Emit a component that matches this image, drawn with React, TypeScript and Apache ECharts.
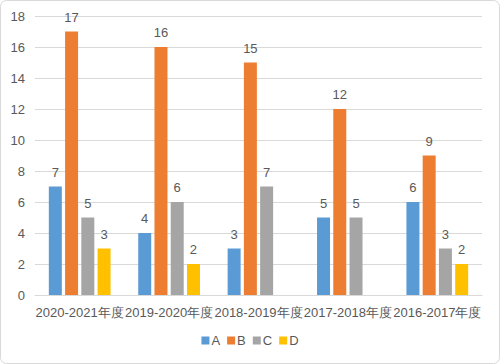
import React, { useEffect, useRef } from "react";
import * as echarts from "echarts";

const categories = ["2020-2021年度", "2019-2020年度", "2018-2019年度", "2017-2018年度", "2016-2017年度"];
const seriesA = [7, 4, 3, 5, 6];
const seriesB = [17, 16, 15, 12, 9];
const seriesC = [5, 6, 7, 5, 3];
const seriesD: (number | null)[] = [3, 2, null, null, 2];
const seriesNames = ["A", "B", "C", "D"];
const colors = ["#5B9BD5", "#ED7D31", "#A5A5A5", "#FFC000"];

export default function App() {
  const ref = useRef<HTMLDivElement>(null);
  useEffect(() => {
    document.body.style.margin = "0";
    const chart = echarts.init(ref.current!, null, { renderer: "svg" });
    const font = "Helvetica, Arial, 'Liberation Sans', sans-serif";
    const data = [seriesA, seriesB, seriesC, seriesD];
    chart.setOption({
      animation: false,
      backgroundColor: "#ffffff",
      textStyle: { fontFamily: font },
      graphic: [
        {
          type: "rect",
          shape: { x: 0.5, y: 0.5, width: 499, height: 363, r: 6 },
          style: { fill: "none", stroke: "#D9D9D9", lineWidth: 1 },
          silent: true,
        },
      ],
      grid: { left: 35, right: 18, top: 16, bottom: 69, containLabel: false },
      legend: {
        bottom: 12,
        left: "center",
        icon: "rect",
        itemWidth: 8,
        itemHeight: 8,
        itemGap: 7,
        textStyle: { color: "#595959", fontSize: 13, fontFamily: font, padding: [0, 0, 0, -3] },
        data: seriesNames,
      },
      xAxis: {
        type: "category",
        data: categories,
        axisLine: { lineStyle: { color: "#D9D9D9", width: 1 } },
        axisTick: { show: false },
        axisLabel: { color: "#595959", fontSize: 13, margin: 11, interval: 0, fontFamily: font },
      },
      yAxis: {
        type: "value",
        min: 0,
        max: 18,
        interval: 2,
        axisLine: { show: false },
        axisTick: { show: false },
        splitLine: { lineStyle: { color: "#D9D9D9", width: 1 } },
        axisLabel: { color: "#595959", fontSize: 13, margin: 10, fontFamily: font },
      },
      series: seriesNames.map((n, i) => ({
        name: n,
        type: "bar",
        data: data[i],
        barWidth: 13,
        barGap: "25%",
        itemStyle: { color: colors[i] },
        label: {
          show: true,
          position: "top",
          distance: 8,
          color: "#595959",
          fontSize: 13,
          fontFamily: font,
        },
      })),
    });
    return () => chart.dispose();
  }, []);
  return <div ref={ref} style={{ width: 500, height: 364 }} />;
}
